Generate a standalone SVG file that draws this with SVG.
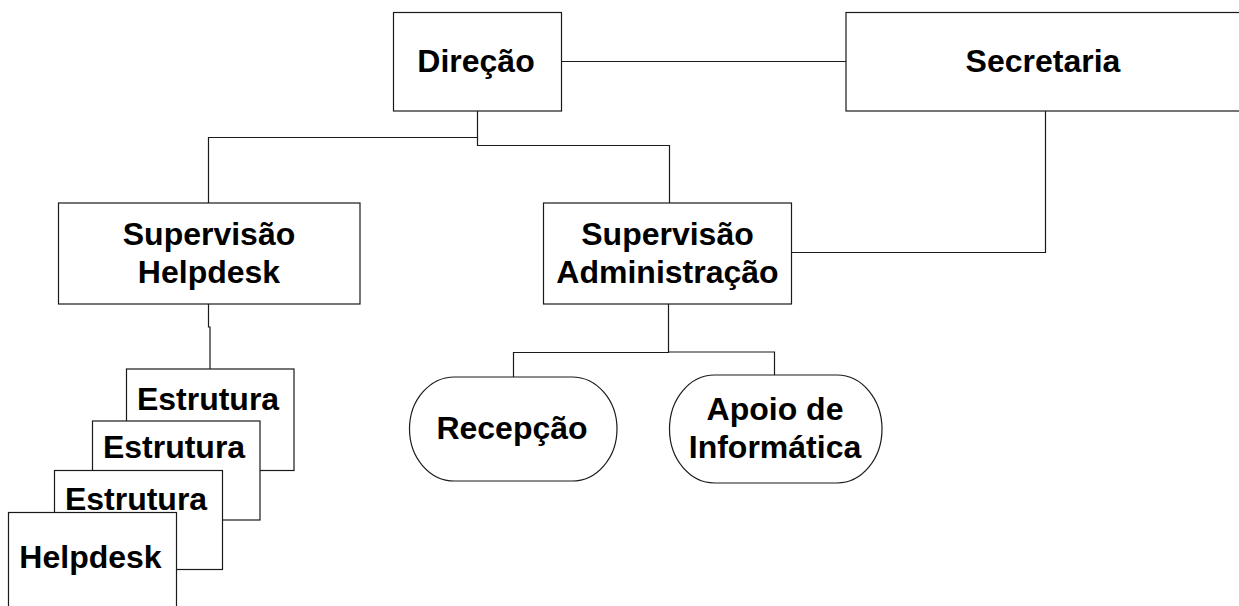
<svg xmlns="http://www.w3.org/2000/svg" width="1239" height="606" viewBox="0 0 1239 606">
<style>
.box{fill:#fff;stroke:#1a1a1a;stroke-width:1.2}
.ln{fill:none;stroke:#1a1a1a;stroke-width:1.2}
text{font-family:"Liberation Sans",Arial,sans-serif;font-weight:bold;font-size:32px;fill:#000;text-anchor:middle}
</style>
<rect width="1239" height="606" fill="#fff"/>
<g id="connectors">
<path class="ln" d="M561.5,61.5 H846"/>
<path class="ln" d="M477.5,111 V137.5 H208.5 V203"/>
<path class="ln" d="M477.5,137 V145.5 H669.5 V203"/>
<path class="ln" d="M1045.5,111 V252.5 H792"/>
<path class="ln" d="M208.5,304 V327 H210 V369"/>
<path class="ln" d="M668.5,304 V352.5 H513.5 V377"/>
<path class="ln" d="M668.5,352 H774.5 V375"/>
</g>
<g id="direcao">
<rect class="box" x="393.5" y="12.5" width="168" height="98.5"/>
<text x="476" y="71.5">Direção</text>
</g>
<g id="secretaria">
<rect class="box" x="846" y="12.5" width="404" height="98.5"/>
<text x="1043" y="71.5">Secretaria</text>
</g>
<g id="supervisao-helpdesk">
<rect class="box" x="58.5" y="203" width="301.5" height="101"/>
<text x="209" y="245">Supervisão</text>
<text x="209" y="282.5">Helpdesk</text>
</g>
<g id="supervisao-administracao">
<rect class="box" x="543.5" y="203" width="248" height="101"/>
<text x="667.5" y="245">Supervisão</text>
<text x="667.5" y="282.5">Administração</text>
</g>
<g id="recepcao">
<rect class="box" x="409.5" y="377" width="207.5" height="104" rx="45" ry="52"/>
<text x="512" y="439">Recepção</text>
</g>
<g id="apoio">
<rect class="box" x="669.5" y="375" width="212.5" height="108" rx="45" ry="54"/>
<text x="775" y="419.5">Apoio de</text>
<text x="775" y="457.5">Informática</text>
</g>
<g id="estrutura-1">
<rect class="box" x="126.5" y="369" width="167.5" height="101.5"/>
<text x="208" y="410">Estrutura</text>
</g>
<g id="estrutura-2">
<rect class="box" x="92.5" y="421" width="167.5" height="99"/>
<text x="174" y="458">Estrutura</text>
</g>
<g id="estrutura-3">
<rect class="box" x="54.5" y="470.5" width="168" height="99"/>
<text x="136" y="510">Estrutura</text>
</g>
<g id="helpdesk">
<rect class="box" x="8.5" y="512.5" width="168" height="110"/>
<text x="90.5" y="568">Helpdesk</text>
</g>
</svg>
